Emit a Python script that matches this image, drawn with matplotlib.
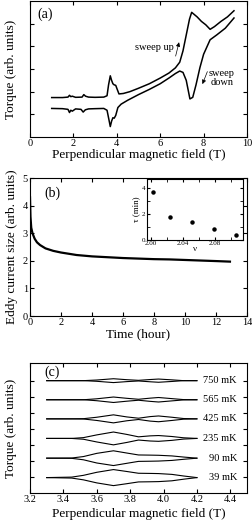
import numpy as np
import matplotlib
matplotlib.use("Agg")
import matplotlib.pyplot as plt

# (a) torque vs field, sweep up / sweep down
up_field = [1.0, 1.5, 1.75, 1.82, 1.88, 1.95, 2.1, 2.4, 2.48, 2.56, 2.7, 3.0, 3.4, 3.55, 3.62, 3.7,
            3.76, 3.82, 3.88, 3.95, 4.02, 4.1, 4.3, 4.6, 5.0, 5.5, 6.0, 6.4, 6.7, 6.9, 7.05, 7.2,
            7.35, 7.45, 7.55, 7.7, 7.9, 8.1, 8.3, 8.5, 8.8, 9.1, 9.4]
up_torque = [1.74, 1.74, 1.76, 1.84, 1.78, 1.80, 1.75, 1.76, 1.87, 1.80, 1.76, 1.75, 1.76, 1.82, 2.3, 2.7,
             2.5, 2.35, 2.3, 2.28, 2.1, 1.9, 1.92, 2.0, 2.15, 2.35, 2.6, 2.82, 3.05, 3.3, 3.8, 4.5,
             5.2, 5.5, 5.42, 5.3, 5.1, 4.95, 4.75, 4.87, 5.1, 5.3, 5.57]
down_field = [1.0, 1.5, 1.75, 1.82, 1.88, 1.95, 2.1, 2.35, 2.45, 2.55, 2.7, 3.0, 3.4, 3.55, 3.63, 3.7,
              3.76, 3.82, 3.88, 3.95, 4.05, 4.2, 4.5, 5.0, 5.5, 6.0, 6.4, 6.7, 6.9, 7.05, 7.2, 7.37,
              7.5, 7.65, 7.83, 8.0, 8.3, 8.6, 9.0, 9.4]
down_torque = [1.26, 1.25, 1.22, 1.08, 1.18, 1.14, 1.24, 1.22, 1.1, 1.2, 1.24, 1.25, 1.26, 1.18, 0.8, 0.46,
               0.7, 0.85, 0.83, 0.95, 1.3, 1.45, 1.62, 1.87, 2.1, 2.35, 2.6, 2.8, 2.91, 2.85, 2.5, 1.68,
               1.75, 2.3, 3.06, 3.65, 4.29, 4.5, 4.8, 5.25]

# (b) eddy current decay
time_h = [0.0, 0.03, 0.08, 0.16, 0.3, 0.45, 0.65, 1.0, 1.5, 2.0, 3.0, 4.0, 5.0, 6.0, 7.0, 8.0,
          9.0, 10.0, 11.0, 12.0, 12.9]
eddy = [4.3, 3.6, 3.2, 3.0, 2.8, 2.67, 2.57, 2.45, 2.36, 2.3, 2.21, 2.16, 2.13, 2.1, 2.08, 2.06,
        2.05, 2.03, 2.01, 1.99, 1.97]

# (b) inset: tau vs filling factor
nu = [2.003, 2.024, 2.051, 2.079, 2.106]
tau = [3.66, 1.79, 1.41, 0.85, 0.38]

# (c) hysteresis loops at several temperatures
loop_field = [3.3, 3.45, 3.52, 3.6, 3.7, 3.78, 3.85, 3.92, 3.97, 4.05, 4.12, 4.2]
temps = ["750 mK", "565 mK", "425 mK", "235 mK", "90 mK", "39 mK"]
baselines = [7.0, 5.81, 4.62, 3.4, 2.17, 0.96]
splits = [
    [0, 0, 0, 0.04, 0.12, 0.06, 0.02, 0.07, 0.1, 0.05, 0.0, 0],
    [0, 0, 0, 0.06, 0.17, 0.09, 0.03, 0.1, 0.14, 0.07, 0.01, 0],
    [0, 0, 0.01, 0.1, 0.25, 0.12, 0.04, 0.14, 0.18, 0.1, 0.02, 0],
    [0, 0, 0.05, 0.22, 0.4, 0.25, 0.1, 0.16, 0.18, 0.12, 0.04, 0],
    [0, 0.01, 0.1, 0.3, 0.46, 0.32, 0.2, 0.19, 0.18, 0.14, 0.07, 0],
    [0, 0.03, 0.14, 0.33, 0.5, 0.38, 0.27, 0.26, 0.25, 0.2, 0.1, 0],
]

plt.rcParams['font.family'] = ['Liberation Serif', 'DejaVu Serif']
plt.rcParams['xtick.direction'] = 'in'
plt.rcParams['ytick.direction'] = 'in'
plt.rcParams['xtick.top'] = True
plt.rcParams['ytick.right'] = True
plt.rcParams['xtick.major.size'] = 3
plt.rcParams['ytick.major.size'] = 3
plt.rcParams['xtick.labelsize'] = 7.5
plt.rcParams['ytick.labelsize'] = 7.5
plt.rcParams['axes.linewidth'] = 0.8

fig = plt.figure(figsize=(2.52, 5.23), dpi=100)
W, H = 252.0, 523.0


def box(left, top, right, bottom):
    return [left / W, 1 - bottom / H, (right - left) / W, (bottom - top) / H]


label_fs = 9.5

# ---- panel (a)
ax1 = fig.add_axes(box(30, 1, 247, 137))
ax1.plot(up_field, up_torque, color='black', lw=1.1)
ax1.plot(down_field, down_torque, color='black', lw=1.1)
ax1.set_xlim(0, 10)
ax1.set_ylim(0, 6)
ax1.set_xticks([0, 2, 4, 6, 8, 10])
ax1.set_yticks([1, 2, 3, 4, 5])
ax1.set_yticklabels([])
ax1.set_xlabel('Perpendicular magnetic field (T)', fontsize=label_fs, labelpad=1)
ax1.set_ylabel('Torque (arb. units)', fontsize=label_fs, labelpad=8)
ax1.tick_params(pad=1.5)
ax1.text(0.035, 0.9, '(a)', transform=ax1.transAxes, fontsize=10, va='center')
ax1.annotate('', xy=(6.9, 4.3), xytext=(6.68, 3.45),
             arrowprops=dict(arrowstyle='-|>', color='black', lw=0.5, mutation_scale=6))
ax1.text(6.62, 3.93, 'sweep up', fontsize=7.5, ha='right', va='center')
ax1.annotate('', xy=(7.9, 2.22), xytext=(8.22, 3.0),
             arrowprops=dict(arrowstyle='-|>', color='black', lw=0.5, mutation_scale=6))
ax1.text(8.85, 2.6, 'sweep\ndown', fontsize=7.5, ha='center', va='center', linespacing=1.0)

# ---- panel (b)
ax2 = fig.add_axes(box(30, 178, 247, 316))
ax2.plot(time_h, eddy, color='black', lw=1.6)
ax2.set_xlim(0, 14)
ax2.set_ylim(0, 5)
ax2.set_xticks(range(0, 15, 2))
ax2.set_yticks(range(0, 6))
ax2.set_xlabel('Time (hour)', fontsize=label_fs, labelpad=1)
ax2.set_ylabel('Eddy current size (arb. units)', fontsize=label_fs, labelpad=3)
ax2.tick_params(pad=1.5)
ax2.text(0.065, 0.89, '(b)', transform=ax2.transAxes, fontsize=10, va='center')

ins = fig.add_axes(box(147, 179, 243, 240))
ins.plot(nu, tau, 'o', color='black', ms=2.2)
ins.set_xlim(1.995, 2.115)
ins.set_ylim(0, 4.7)
ins.set_xticks([2.00, 2.04, 2.08])
ins.set_xticklabels(['2.00', '2.04', '2.08'])
ins.set_xticks([2.02, 2.06, 2.10], minor=True)
ins.set_yticks([0, 2, 4])
ins.set_yticks([1, 3], minor=True)
ins.tick_params(labelsize=5, pad=1, length=2.5)
ins.tick_params(which='minor', length=2.5, direction='in', top=True, right=True)
ins.set_xlabel('ν', fontsize=6.5, labelpad=-1)
ins.set_ylabel('τ (min)', fontsize=6.5, labelpad=1)

# ---- panel (c)
ax3 = fig.add_axes(box(30, 363, 247, 493))
for base, split, name in zip(baselines, splits, temps):
    upper = [base + s for s in split]
    lower = [base - s for s in split]
    ax3.plot(loop_field, upper, color='black', lw=0.8)
    ax3.plot(loop_field, lower, color='black', lw=0.8)
    ax3.text(4.44, base, name, fontsize=7.5, ha='right', va='center')
ax3.set_xlim(3.2, 4.5)
ax3.set_ylim(0, 8.1)
ax3.set_xticks([3.2, 3.4, 3.6, 3.8, 4.0, 4.2, 4.4])
ax3.set_yticks(range(1, 8))
ax3.set_yticklabels([])
ax3.set_xlabel('Perpendicular magnetic field (T)', fontsize=label_fs, labelpad=3)
ax3.set_ylabel('Torque (arb. units)', fontsize=label_fs, labelpad=8)
ax3.tick_params(pad=1.5)
ax3.text(0.065, 0.93, '(c)', transform=ax3.transAxes, fontsize=10, va='center')

fig.savefig('out.png', dpi=100)
